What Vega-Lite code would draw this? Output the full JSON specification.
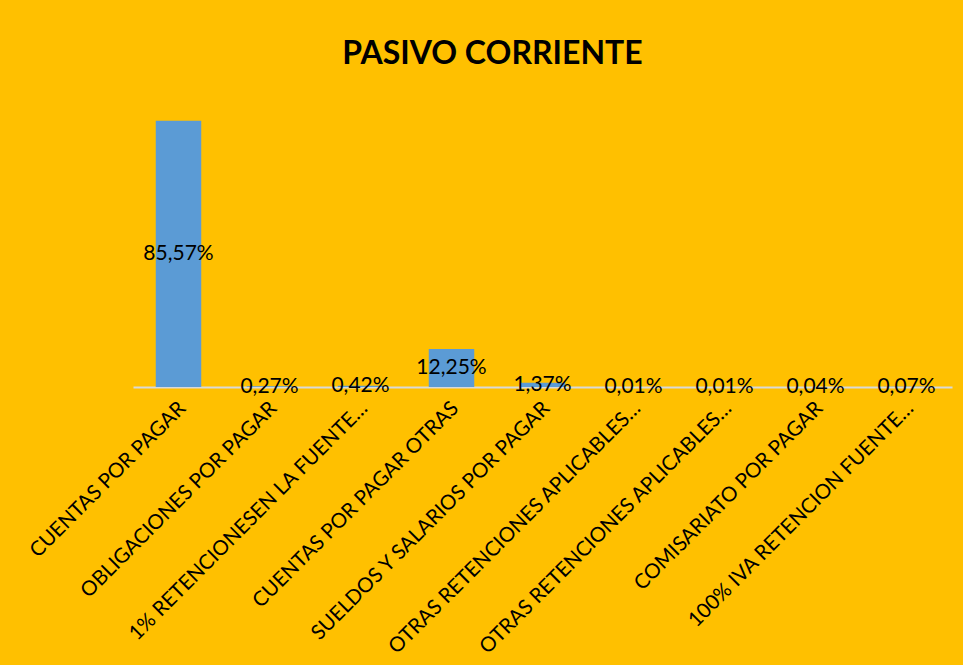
{
  "$schema": "https://vega.github.io/schema/vega-lite/v6.json",
  "width": 819,
  "height": 280,
  "autosize": {"type": "none"},
  "padding": {"left": 133, "top": 107, "right": 11, "bottom": 278},
  "background": "#FFC000",
  "config": {
    "view": {"stroke": null},
    "font": "Lato",
    "locale": {"number": {"decimal": ",", "thousands": ".", "grouping": [3], "currency": ["", " €"]}}
  },
  "title": {
    "text": "PASIVO CORRIENTE",
    "font": "Lato",
    "fontSize": 32,
    "fontWeight": "bold",
    "color": "#000000",
    "anchor": "middle",
    "dx": -50,
    "baseline": "alphabetic",
    "offset": 11
  },
  "data": {
    "values": [
      {"cuenta": "CUENTAS POR PAGAR", "v": 0.8557},
      {"cuenta": "OBLIGACIONES POR PAGAR", "v": 0.0027},
      {"cuenta": "1% RETENCIONESEN LA FUENTE…", "v": 0.0042},
      {"cuenta": "CUENTAS POR PAGAR OTRAS", "v": 0.1225},
      {"cuenta": "SUELDOS Y SALARIOS POR PAGAR", "v": 0.0137},
      {"cuenta": "OTRAS RETENCIONES APLICABLES…", "v": 0.0001},
      {"cuenta": "OTRAS RETENCIONES APLICABLES… ", "v": 0.0001},
      {"cuenta": "COMISARIATO POR PAGAR", "v": 0.0004},
      {"cuenta": "100% IVA RETENCION FUENTE…", "v": 0.0007}
    ]
  },
  "encoding": {
    "x": {
      "field": "cuenta",
      "type": "nominal",
      "sort": null,
      "scale": {"paddingInner": 0.5, "paddingOuter": 0.25},
      "axis": {
        "title": null,
        "domainColor": "#D9D9D9",
        "domainWidth": 2,
        "ticks": false,
        "grid": false,
        "labelAngle": -45,
        "labelAlign": "right",
        "labelBaseline": "middle",
        "labelPadding": 18,
        "labelOffset": 4,
        "labelFont": "Lato",
        "labelFontSize": 20.5,
        "labelColor": "#000000",
        "labelLimit": 500
      }
    }
  },
  "layer": [
    {
      "mark": {"type": "bar", "color": "#5B9BD5"},
      "encoding": {
        "y": {"field": "v", "type": "quantitative", "scale": {"domain": [0, 0.9], "nice": false}, "axis": null}
      }
    },
    {
      "mark": {"type": "text", "font": "Lato", "fontSize": 21, "color": "#000000", "baseline": "middle", "align": "center"},
      "encoding": {
        "y": {"field": "v", "type": "quantitative", "scale": {"domain": [0, 1.8], "nice": false}, "axis": null},
        "text": {"field": "v", "type": "quantitative", "format": ".2%"}
      }
    }
  ],
  "resolve": {"scale": {"y": "independent"}}
}
